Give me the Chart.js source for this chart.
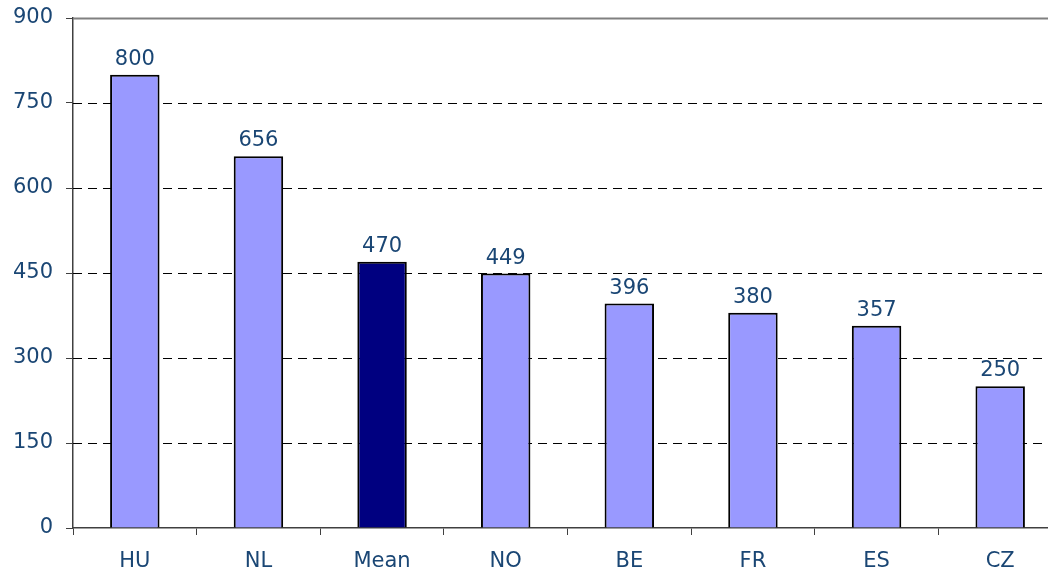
<!DOCTYPE html>
<html>
<head>
<meta charset="utf-8">
<script src="https://cdn.jsdelivr.net/npm/chart.js@4.4.1/dist/chart.umd.min.js"></script>
<style>
    html, body { margin: 0; padding: 0; background: #fff; overflow: hidden; }
    #wrap { width: 1062px; height: 574px; }
</style>
</head>
<body>
<div id="wrap"><canvas id="chart" width="1062" height="574"></canvas></div>
<script>
    // data
    const countries = ['HU', 'NL', 'Mean', 'NO', 'BE', 'FR', 'ES', 'CZ'];
    const values = [800, 656, 470, 449, 396, 380, 357, 250];
    const y_ticks = [0, 150, 300, 450, 600, 750, 900];

    const text_color = '#1a4674';
    const font_family = '"DejaVu Sans", Verdana, sans-serif';
    const bar_colors = countries.map(c => c === 'Mean' ? '#000080' : '#9999ff');

    // dashed grid lines + solid top line
    const grid_plugin = {
        id: 'gridLines',
        beforeDatasetsDraw(chart) {
            let ctx = chart.ctx;
            let area = chart.chartArea;
            let y = chart.scales.y;
            ctx.save();
            y_ticks.forEach(v => {
                if (v === 0) return;
                let py = Math.round(y.getPixelForValue(v)) + 0.5;
                ctx.beginPath();
                if (v === 900) {
                    ctx.setLineDash([]);
                    ctx.strokeStyle = '#808080';
                    ctx.lineWidth = 2;
                } else {
                    ctx.setLineDash([9, 6]);
                    ctx.strokeStyle = '#000';
                    ctx.lineWidth = 1;
                }
                ctx.moveTo(area.left, py);
                ctx.lineTo(area.right, py);
                ctx.stroke();
            });
            ctx.restore();
        }
    };

    // value labels over bars
    const label_plugin = {
        id: 'barLabels',
        afterDatasetsDraw(chart) {
            let ctx = chart.ctx;
            let meta = chart.getDatasetMeta(0);
            ctx.save();
            ctx.fillStyle = text_color;
            ctx.font = '21px ' + font_family;
            ctx.textAlign = 'center';
            ctx.textBaseline = 'alphabetic';
            meta.data.forEach((bar, i) => {
                ctx.fillText(String(values[i]), bar.x, bar.y - 10);
            });
            ctx.restore();
        }
    };

    new Chart(document.getElementById('chart'), {
        type: 'bar',
        data: {
            labels: countries,
            datasets: [{
                data: values,
                backgroundColor: bar_colors,
                borderColor: '#000',
                borderWidth: 2,
                borderSkipped: 'bottom',
                categoryPercentage: 0.4,
                barPercentage: 1.0
            }]
        },
        options: {
            responsive: false,
            animation: false,
            layout: { padding: { top: 18, right: 0, bottom: 0, left: 0 } },
            plugins: {
                legend: { display: false },
                tooltip: { enabled: false }
            },
            scales: {
                x: {
                    afterFit(scale) { scale.height = 46; },
                    grid: {
                        offset: true,
                        drawOnChartArea: false,
                        drawTicks: true,
                        tickLength: 7,
                        color: '#404040'
                    },
                    border: { display: true, color: '#404040', width: 1.5 },
                    ticks: {
                        color: text_color,
                        padding: 14,
                        font: { family: font_family, size: 21 }
                    }
                },
                y: {
                    min: 0,
                    max: 900,
                    afterFit(scale) {
                        scale.width = 73;
                        scale.paddingTop = 0;
                        scale.paddingBottom = 0;
                    },
                    afterBuildTicks(scale) { scale.ticks = y_ticks.map(v => ({ value: v })); },
                    grid: {
                        drawOnChartArea: false,
                        drawTicks: true,
                        tickLength: 7,
                        color: '#404040'
                    },
                    border: { display: true, color: '#404040', width: 1.5 },
                    ticks: {
                        color: text_color,
                        padding: 13,
                        font: { family: font_family, size: 21 }
                    }
                }
            }
        },
        plugins: [grid_plugin, label_plugin]
    });
</script>
</body>
</html>
